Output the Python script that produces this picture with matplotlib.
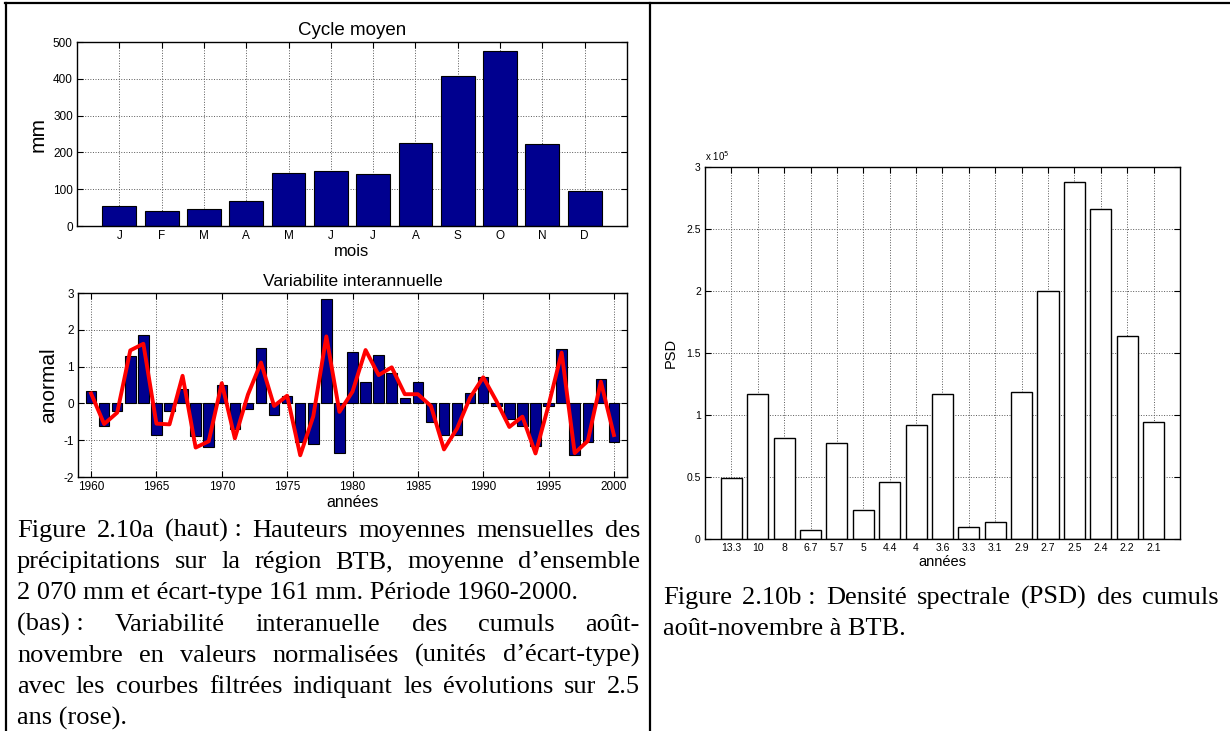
import matplotlib
matplotlib.use('Agg')
from matplotlib import pyplot as plt
from matplotlib.lines import Line2D
import numpy as np

plt.rcParams['font.family'] = ['Liberation Sans', 'DejaVu Sans']
plt.rcParams['axes.unicode_minus'] = False

# Mean monthly rainfall (mm)
months = ['J', 'F', 'M', 'A', 'M', 'J', 'J', 'A', 'S', 'O', 'N', 'D']
rain_mm = [55, 41, 46, 69, 145, 150, 140, 226, 407, 475, 224, 95]

# Normalised Aug-Nov totals and the 2.5-year filtered curve
years = list(range(1960, 2001))
anomaly = [0.34, -0.62, -0.20, 1.29, 1.85, -0.86, -0.20, 0.39, -0.89, -1.18,
           0.49, -0.69, -0.16, 1.51, -0.32, 0.19, -1.05, -1.11, 2.84, -1.35,
           1.41, 0.59, 1.31, 0.82, 0.14, 0.59, -0.51, -0.86, -0.85, 0.29,
           0.73, -0.08, -0.43, -0.62, -1.15, -0.08, 1.48, -1.39, -1.04, 0.66,
           -1.04]
filtered = [0.27, -0.56, -0.25, 1.44, 1.62, -0.55, -0.57, 0.75, -1.20, -1.03,
            0.55, -0.95, 0.24, 1.11, -0.07, 0.21, -1.41, -0.35, 1.82, -0.23,
            0.32, 1.45, 0.77, 0.98, 0.25, 0.25, -0.07, -1.25, -0.68, 0.16,
            0.71, 0.07, -0.64, -0.36, -1.36, -0.05, 1.38, -1.35, -1.02, 0.59,
            -0.86]

# Power spectral density (units of 10^5) by period in years
periods = ['13.3', '10', '8', '6.7', '5.7', '5', '4.4', '4', '3.6', '3.3',
           '3.1', '2.9', '2.7', '2.5', '2.4', '2.2', '2.1']
psd = [0.49, 1.17, 0.815, 0.075, 0.775, 0.232, 0.462, 0.916, 1.167, 0.10,
       0.134, 1.186, 2.0, 2.88, 2.66, 1.637, 0.945]

W, H = 1230, 731
fig = plt.figure(figsize=(W / 100, H / 100), dpi=100)


def box(x0, y0, x1, y1):
    # pixel box (top-left origin) -> figure fraction rect
    return [x0 / W, 1 - y1 / H, (x1 - x0) / W, (y1 - y0) / H]


def matlab_axes(ax, ticklen=4, labelsize=8.5):
    ax.tick_params(direction='in', top=True, right=True, length=ticklen,
                   width=0.8, labelsize=labelsize, pad=3)
    ax.grid(True, linestyle=':', color='0.35', linewidth=0.7)
    ax.set_axisbelow(True)
    for s in ax.spines.values():
        s.set_linewidth(1.0)


navy = '#00008F'

# --- Cycle moyen ---
ax1 = fig.add_axes(box(77, 42, 627, 226))
x1 = np.arange(1, len(months) + 1)
ax1.bar(x1, rain_mm, width=0.8, color=navy, edgecolor='black', linewidth=0.8)
ax1.set_xlim(0, 13)
ax1.set_ylim(0, 500)
ax1.set_xticks(x1)
ax1.set_xticklabels(months)
ax1.set_yticks(range(0, 501, 100))
ax1.set_title('Cycle moyen', fontsize=13.5, pad=5)
ax1.set_ylabel('mm', fontsize=15, labelpad=4)
ax1.set_xlabel('mois', fontsize=12, labelpad=1)
matlab_axes(ax1)

# --- Variabilite interannuelle ---
ax2 = fig.add_axes(box(78, 293, 627, 477))
ax2.bar(years, anomaly, width=0.8, color=navy, edgecolor='black', linewidth=0.8)
ax2.plot(years, filtered, color='red', linewidth=2.8)
ax2.set_xlim(1959, 2001)
ax2.set_ylim(-2, 3)
ax2.set_xticks(range(1960, 2001, 5))
ax2.set_yticks(range(-2, 4))
ax2.set_title('Variabilite interannuelle', fontsize=12.5, pad=5)
ax2.set_ylabel('anormal', fontsize=15, labelpad=4)
ax2.set_xlabel('années', fontsize=11.5, labelpad=1)
matlab_axes(ax2)

# --- PSD ---
ax3 = fig.add_axes(box(705, 167, 1180, 539))
x3 = np.arange(1, len(periods) + 1)
ax3.bar(x3, psd, width=0.8, color='white', edgecolor='black', linewidth=1.0)
ax3.set_xlim(0, 18)
ax3.set_ylim(0, 3)
ax3.set_xticks(x3)
ax3.set_xticklabels(periods)
ax3.set_yticks([0, 0.5, 1, 1.5, 2, 2.5, 3])
ax3.set_yticklabels(['0', '0.5', '1', '1.5', '2', '2.5', '3'])
ax3.set_ylabel('PSD', fontsize=10.5, labelpad=6)
ax3.set_xlabel('années', fontsize=10.5, labelpad=1)
ax3.text(0.0, 1.012, r'x 10$^{5}$', transform=ax3.transAxes, fontsize=7,
         ha='left', va='bottom')
matlab_axes(ax3, ticklen=4, labelsize=7.5)

# --- table rules ---
for xs, ys in [((5, W), (3, 3)), ((6, 6), (3, H)), ((650, 650), (3, H))]:
    fig.add_artist(Line2D([x / W for x in xs], [1 - y / H for y in ys],
                          color='black', linewidth=1.6))

# --- captions ---
serif = ['Liberation Serif', 'DejaVu Serif']
cap_size = 19
renderer = fig.canvas.get_renderer()
nb = '\u00a0'


def caption_line(text, x0, x1, y, justify):
    yf = 1 - y / H
    if not justify:
        fig.text(x0 / W, yf, text, family=serif, fontsize=cap_size,
                 ha='left', va='baseline')
        return
    words = text.split(' ')
    objs = [fig.text(0, yf, w, family=serif, fontsize=cap_size,
                     ha='left', va='baseline') for w in words]
    widths = [o.get_window_extent(renderer).width for o in objs]
    gap = (x1 - x0 - sum(widths)) / (len(words) - 1)
    x = x0
    for o, w in zip(objs, widths):
        o.set_x(x / W)
        x += w + gap


left_caption = [
    ('Figure 2.10a (haut)' + nb + ': Hauteurs moyennes mensuelles des', True),
    ('précipitations sur la région BTB, moyenne d’ensemble', True),
    ('2' + nb + '070 mm et écart-type 161 mm. Période 1960-2000.', False),
    ('(bas)' + nb + ': Variabilité interanuelle des cumuls août-', True),
    ('novembre en valeurs normalisées (unités d’écart-type)', True),
    ('avec les courbes filtrées indiquant les évolutions sur 2.5', True),
    ('ans (rose).', False),
]
for i, (t, j) in enumerate(left_caption):
    caption_line(t, 17, 640, 537 + i * 31.2, j)

right_caption = [
    ('Figure 2.10b' + nb + ': Densité spectrale (PSD) des cumuls', True),
    ('août-novembre à BTB.', False),
]
for i, (t, j) in enumerate(right_caption):
    caption_line(t, 663, 1219, 604 + i * 31.2, j)

fig.savefig('out.png', dpi=100)
